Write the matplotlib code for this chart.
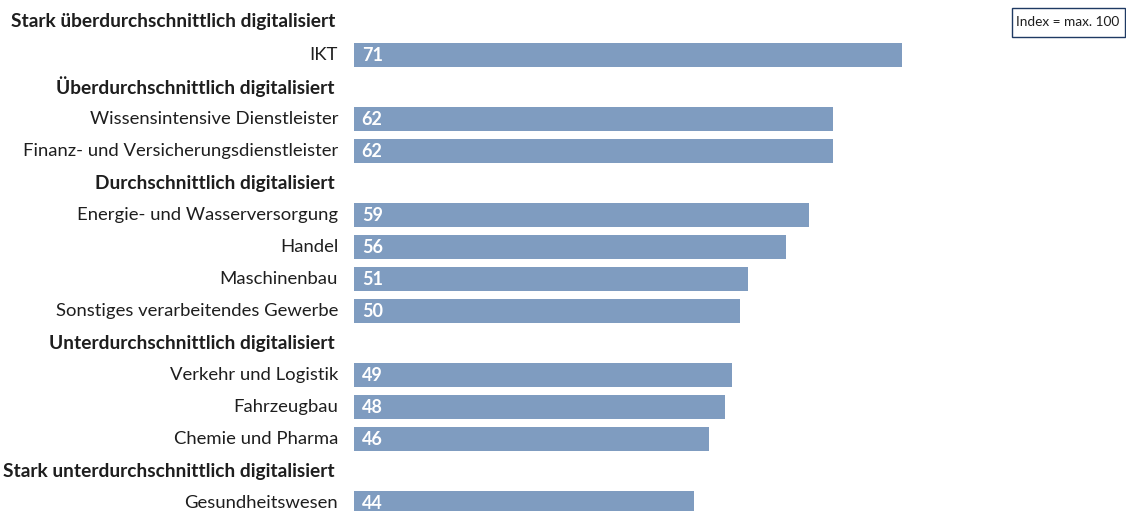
import matplotlib
matplotlib.use("Agg")
import matplotlib.pyplot as plt
import matplotlib.transforms as mtransforms
from matplotlib.patches import Rectangle

plt.rcParams['font.family'] = ['Lato', 'DejaVu Sans']

# rows: (label, value or None for group header)
labels = [
    "Stark überdurchschnittlich digitalisiert",
    "IKT",
    "Überdurchschnittlich digitalisiert",
    "Wissensintensive Dienstleister",
    "Finanz- und Versicherungsdienstleister",
    "Durchschnittlich digitalisiert",
    "Energie- und Wasserversorgung",
    "Handel",
    "Maschinenbau",
    "Sonstiges verarbeitendes Gewerbe",
    "Unterdurchschnittlich digitalisiert",
    "Verkehr und Logistik",
    "Fahrzeugbau",
    "Chemie und Pharma",
    "Stark unterdurchschnittlich digitalisiert",
    "Gesundheitswesen",
]
values = [None, 71, None, 62, 62, None, 59, 56, 51, 50, None, 49, 48, 46, None, 44]
index_note = "Index = max. 100"

W, H = 1126, 511
fig = plt.figure(figsize=(W / 100, H / 100), dpi=100)
ax = fig.add_axes([354 / W, 0, (W - 354) / W, 1])
ax.set_xlim(0, 100)
ax.set_ylim(15.25, -0.71875)
ax.axis('off')

bar_color = '#7f9cc0'
text_color = '#1e1e1e'
trans = mtransforms.blended_transform_factory(fig.transFigure, ax.transData)

for i, (lab, v) in enumerate(zip(labels, values)):
    if v is None:
        y = i - 0.06 if i == 0 else i
        ax.text(335 / W, y, lab, transform=trans, ha='right', va='center',
                fontsize=13.8, fontweight='bold', color=text_color)
    else:
        ax.barh(i, v, height=0.75, left=0, color=bar_color)
        ax.text(338 / W, i, lab, transform=trans, ha='right', va='center',
                fontsize=13.3, color=text_color)
        ax.text(1.0, i, str(v), ha='left', va='center', fontsize=13,
                fontweight='bold', color='white')

fig.patches.append(Rectangle((1012 / W, 1 - 37 / H), 113 / W, 29 / H,
                             transform=fig.transFigure, fill=False,
                             edgecolor='#1f3a63', linewidth=1.0))
fig.text(1068 / W, 1 - 22.5 / H, index_note, ha='center', va='center',
         fontsize=9.8, color=text_color)

fig.savefig('out.png', dpi=100)
